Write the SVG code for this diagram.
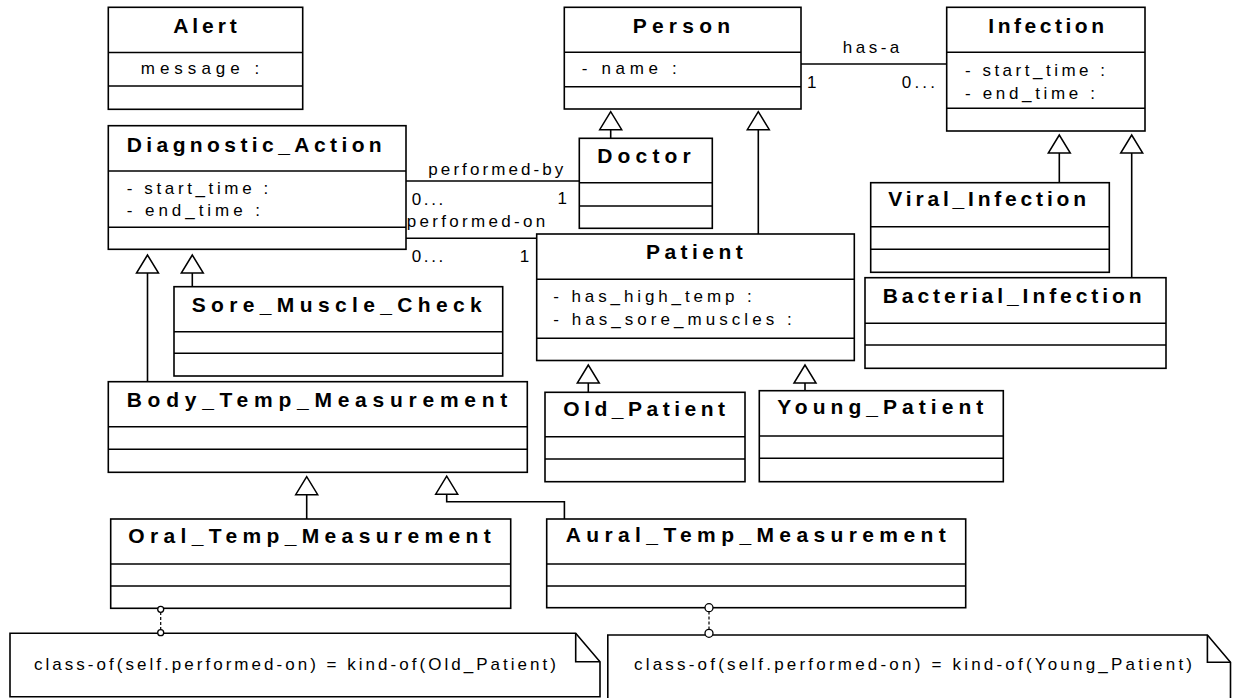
<svg xmlns="http://www.w3.org/2000/svg" width="1233" height="698" viewBox="0 0 1233 698">
<style>
.box{fill:#fff;stroke:#000;stroke-width:1.6}
.div{stroke:#000;stroke-width:1.6}
.ln{fill:none;stroke:#000;stroke-width:1.6}
.dash{fill:none;stroke:#000;stroke-width:1.2;stroke-dasharray:3,2}
.gen{fill:#fff;stroke:#000;stroke-width:1.5}
.circ{fill:#fff;stroke:#000;stroke-width:1.3}
text{font-family:"Liberation Sans",Arial,Helvetica,sans-serif;fill:#000}
.t{font-size:21px;font-weight:bold}
.a{font-size:17px}
</style>
<defs>
<path id="tri" class="gen" d="M0,0 L-11,18 L11,18 Z"/>
</defs>
<rect width="1233" height="698" fill="#fff"/>

<g id="connectors">
<line class="ln" x1="801" y1="64" x2="946.7" y2="64"/>
<line class="ln" x1="404" y1="181" x2="579.3" y2="181"/>
<line class="ln" x1="406" y1="238.3" x2="536.7" y2="238.3"/>
<line class="ln" x1="610.7" y1="129.7" x2="610.7" y2="138.3"/>
<line class="ln" x1="758.3" y1="129.7" x2="758.3" y2="234"/>
<line class="ln" x1="1059.3" y1="153" x2="1059.3" y2="182.7"/>
<line class="ln" x1="1131.7" y1="153" x2="1131.7" y2="277.7"/>
<line class="ln" x1="147.5" y1="273" x2="147.5" y2="381.7"/>
<line class="ln" x1="192.3" y1="273" x2="192.3" y2="286.7"/>
<line class="ln" x1="588.3" y1="383" x2="588.3" y2="392.3"/>
<line class="ln" x1="805" y1="383" x2="805" y2="390.7"/>
<line class="ln" x1="306.7" y1="494" x2="306.7" y2="519"/>
<polyline class="ln" points="446.7,494 446.7,501.7 564.4,501.7 564.4,519"/>
<use href="#tri" x="610.7" y="111.7"/>
<use href="#tri" x="758.3" y="111.7"/>
<use href="#tri" x="1059.3" y="135"/>
<use href="#tri" x="1131.7" y="135"/>
<use href="#tri" x="147.5" y="255"/>
<use href="#tri" x="192.3" y="255"/>
<use href="#tri" x="588.3" y="365"/>
<use href="#tri" x="805" y="365"/>
<use href="#tri" x="306.7" y="476.7"/>
<use href="#tri" x="446.7" y="476.2"/>
<line class="dash" x1="160.7" y1="612" x2="160.7" y2="630"/>
<line class="dash" x1="709" y1="611.5" x2="709" y2="629.5"/>
<text class="a" x="842.7" y="52.7" textLength="56.6" lengthAdjust="spacing">has-a</text>
<text class="a" x="807" y="88.3">1</text>
<text class="a" x="901.7" y="88.3" textLength="33.3" lengthAdjust="spacing">0...</text>
<text class="a" x="428.3" y="175" textLength="135" lengthAdjust="spacing">performed-by</text>
<text class="a" x="411.7" y="205" textLength="31.6" lengthAdjust="spacing">0...</text>
<text class="a" x="557.5" y="204">1</text>
<text class="a" x="406.7" y="227.3" textLength="138.6" lengthAdjust="spacing">performed-on</text>
<text class="a" x="411.7" y="261.7" textLength="31.6" lengthAdjust="spacing">0...</text>
<text class="a" x="519.7" y="261.7">1</text>
</g>

<g id="Alert">
<rect class="box" x="108.3" y="7.3" width="194.4" height="102"/>
<line class="div" x1="108.3" y1="52.5" x2="302.7" y2="52.5"/>
<line class="div" x1="108.3" y1="86" x2="302.7" y2="86"/>
<text class="t" x="173.3" y="33.3" textLength="63.4" lengthAdjust="spacing">Alert</text>
<text class="a" x="140.7" y="74" textLength="118.6" lengthAdjust="spacing">message :</text>
</g>

<g id="Person">
<rect class="box" x="564.3" y="7.3" width="236.7" height="101.7"/>
<line class="div" x1="564.3" y1="52.3" x2="801" y2="52.3"/>
<line class="div" x1="564.3" y1="86.7" x2="801" y2="86.7"/>
<text class="t" x="632.7" y="33.3" textLength="97.3" lengthAdjust="spacing">Person</text>
<text class="a" x="581.7" y="74" textLength="95" lengthAdjust="spacing">- name :</text>
</g>

<g id="Infection">
<rect class="box" x="946.7" y="7.3" width="198.3" height="123.7"/>
<line class="div" x1="946.7" y1="52.3" x2="1145" y2="52.3"/>
<line class="div" x1="946.7" y1="108.3" x2="1145" y2="108.3"/>
<text class="t" x="988.3" y="33.3" textLength="115.7" lengthAdjust="spacing">Infection</text>
<text class="a" x="965" y="76" textLength="140" lengthAdjust="spacing">- start_time :</text>
<text class="a" x="965" y="99.3" textLength="130" lengthAdjust="spacing">- end_time :</text>
</g>

<g id="Diagnostic_Action">
<rect class="box" x="108.3" y="125.7" width="297.7" height="123.6"/>
<line class="div" x1="108.3" y1="171" x2="406" y2="171"/>
<line class="div" x1="108.3" y1="227.3" x2="406" y2="227.3"/>
<text class="t" x="126.7" y="151.7" textLength="255" lengthAdjust="spacing">Diagnostic_Action</text>
<text class="a" x="126.7" y="194" textLength="141.6" lengthAdjust="spacing">- start_time :</text>
<text class="a" x="126.7" y="215.7" textLength="133.3" lengthAdjust="spacing">- end_time :</text>
</g>

<g id="Doctor">
<rect class="box" x="579.3" y="138.3" width="133" height="90"/>
<line class="div" x1="579.3" y1="182.7" x2="712.3" y2="182.7"/>
<line class="div" x1="579.3" y1="206" x2="712.3" y2="206"/>
<text class="t" x="597.3" y="163.3" textLength="93.4" lengthAdjust="spacing">Doctor</text>
</g>

<g id="Patient">
<rect class="box" x="536.7" y="234" width="317.6" height="126.5"/>
<line class="div" x1="536.7" y1="279.3" x2="854.3" y2="279.3"/>
<line class="div" x1="536.7" y1="338.3" x2="854.3" y2="338.3"/>
<text class="t" x="646" y="259.3" textLength="96.7" lengthAdjust="spacing">Patient</text>
<text class="a" x="553.3" y="301.7" textLength="198.4" lengthAdjust="spacing">- has_high_temp :</text>
<text class="a" x="553.3" y="325" textLength="238.4" lengthAdjust="spacing">- has_sore_muscles :</text>
</g>

<g id="Viral_Infection">
<rect class="box" x="870.7" y="182.7" width="238.6" height="89.6"/>
<line class="div" x1="870.7" y1="226.7" x2="1109.3" y2="226.7"/>
<line class="div" x1="870.7" y1="249.3" x2="1109.3" y2="249.3"/>
<text class="t" x="888.3" y="206" textLength="197.7" lengthAdjust="spacing">Viral_Infection</text>
</g>

<g id="Bacterial_Infection">
<rect class="box" x="865" y="277.7" width="301" height="90.6"/>
<line class="div" x1="865" y1="323.3" x2="1166" y2="323.3"/>
<line class="div" x1="865" y1="345" x2="1166" y2="345"/>
<text class="t" x="882.7" y="302.7" textLength="259" lengthAdjust="spacing">Bacterial_Infection</text>
</g>

<g id="Sore_Muscle_Check">
<rect class="box" x="174" y="286.7" width="328.7" height="89.3"/>
<line class="div" x1="174" y1="331.7" x2="502.7" y2="331.7"/>
<line class="div" x1="174" y1="353.3" x2="502.7" y2="353.3"/>
<text class="t" x="191.7" y="311.7" textLength="290" lengthAdjust="spacing">Sore_Muscle_Check</text>
</g>

<g id="Body_Temp_Measurement">
<rect class="box" x="108.3" y="381.7" width="419" height="90.6"/>
<line class="div" x1="108.3" y1="426.7" x2="527.3" y2="426.7"/>
<line class="div" x1="108.3" y1="449.3" x2="527.3" y2="449.3"/>
<text class="t" x="126.7" y="406.7" textLength="380.6" lengthAdjust="spacing">Body_Temp_Measurement</text>
</g>

<g id="Old_Patient">
<rect class="box" x="545" y="392.3" width="200" height="89.4"/>
<line class="div" x1="545" y1="436.7" x2="745" y2="436.7"/>
<line class="div" x1="545" y1="459" x2="745" y2="459"/>
<text class="t" x="563.3" y="416" textLength="161.7" lengthAdjust="spacing">Old_Patient</text>
</g>

<g id="Young_Patient">
<rect class="box" x="759.3" y="390.7" width="244" height="91"/>
<line class="div" x1="759.3" y1="436" x2="1003.3" y2="436"/>
<line class="div" x1="759.3" y1="458.3" x2="1003.3" y2="458.3"/>
<text class="t" x="777.3" y="414" textLength="206" lengthAdjust="spacing">Young_Patient</text>
</g>

<g id="Oral_Temp_Measurement">
<rect class="box" x="110.7" y="519" width="400" height="89.3"/>
<line class="div" x1="110.7" y1="564" x2="510.7" y2="564"/>
<line class="div" x1="110.7" y1="586" x2="510.7" y2="586"/>
<text class="t" x="128.3" y="542.7" textLength="362.4" lengthAdjust="spacing">Oral_Temp_Measurement</text>
</g>

<g id="Aural_Temp_Measurement">
<rect class="box" x="546.7" y="519" width="419" height="88.7"/>
<line class="div" x1="546.7" y1="564" x2="965.7" y2="564"/>
<line class="div" x1="546.7" y1="586" x2="965.7" y2="586"/>
<text class="t" x="565.7" y="542.3" textLength="380" lengthAdjust="spacing">Aural_Temp_Measurement</text>
</g>

<g id="Note_Old">
<path class="box" d="M10,633.3 H575.7 L600,661.7 V696.7 H10 Z"/>
<path class="ln" d="M575.7,633.3 V661.7 H600"/>
<text class="a" x="34" y="670" textLength="522" lengthAdjust="spacing">class-of(self.performed-on) = kind-of(Old_Patient)</text>
<circle class="circ" cx="160.7" cy="609.3" r="3"/>
<circle class="circ" cx="160.7" cy="632.7" r="3"/>
</g>

<g id="Note_Young">
<path class="box" d="M607.8,635 H1207.4 L1230.5,662.3 V702 H607.8 Z"/>
<path class="ln" d="M1207.4,635 V662.3 H1230.5"/>
<text class="a" x="634" y="670" textLength="558" lengthAdjust="spacing">class-of(self.performed-on) = kind-of(Young_Patient)</text>
<circle class="circ" cx="709" cy="607.7" r="4"/>
<circle class="circ" cx="709" cy="633.3" r="4"/>
</g>
</svg>
